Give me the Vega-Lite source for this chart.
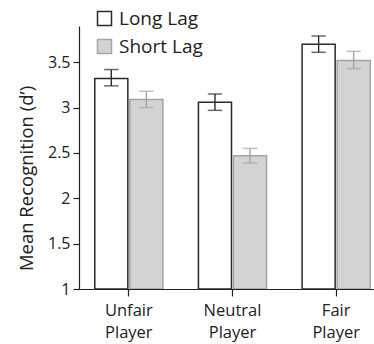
{
  "$schema": "https://vega.github.io/schema/vega-lite/v6.json",
  "autosize": {"type": "none"},
  "padding": {"left": 79, "top": 26, "right": 2, "bottom": 55},
  "width": 293,
  "height": 263,
  "background": "white",
  "config": {
    "font": "Open Sans",
    "view": {"stroke": null},
    "axis": {"domainColor": "#222", "tickColor": "#222", "labelColor": "#222", "titleColor": "#222", "grid": false, "domainWidth": 1.2, "tickWidth": 1.2}
  },
  "data": {
    "values": [
      {"player": "Unfair Player", "lag": "Long Lag", "mean": 3.32, "lo": 3.24, "hi": 3.42},
      {"player": "Unfair Player", "lag": "Short Lag", "mean": 3.09, "lo": 3.0, "hi": 3.18},
      {"player": "Neutral Player", "lag": "Long Lag", "mean": 3.06, "lo": 2.97, "hi": 3.15},
      {"player": "Neutral Player", "lag": "Short Lag", "mean": 2.47, "lo": 2.39, "hi": 2.55},
      {"player": "Fair Player", "lag": "Long Lag", "mean": 3.70, "lo": 3.61, "hi": 3.79},
      {"player": "Fair Player", "lag": "Short Lag", "mean": 3.52, "lo": 3.43, "hi": 3.62}
    ]
  },
  "encoding": {
    "x": {
      "field": "player", "type": "nominal",
      "sort": ["Unfair Player", "Neutral Player", "Fair Player"],
      "scale": {"range": [-2, 309], "paddingInner": 0, "paddingOuter": 0},
      "title": null,
      "axis": {"labelAngle": 0, "labelFontSize": 16.5, "tickSize": 7, "labelPadding": 6, "labelLineHeight": 22, "labelExpr": "split(datum.label, ' ')", "labelBaseline": "top", "zindex": 1}
    },
    "xOffset": {
      "field": "lag", "type": "nominal",
      "sort": ["Long Lag", "Short Lag"],
      "scale": {"paddingInner": 0.057, "paddingOuter": 0.507}
    },
    "stroke": {
      "field": "lag", "type": "nominal",
      "sort": ["Long Lag", "Short Lag"],
      "scale": {"range": ["#2a2a2a", "#a5a5a5"]},
      "legend": {
        "orient": "none", "legendX": 16, "legendY": -17, "title": null,
        "symbolType": "square", "symbolSize": 196, "symbolStrokeWidth": 1.5,
        "labelFontSize": 19, "labelFontWeight": "normal", "labelOffset": 5, "rowPadding": 7, "labelColor": "#222",
        "encode": {"symbols": {"update": {"fill": {"scale": "fill", "field": "value"}, "stroke": {"scale": "stroke", "field": "value"}, "fillOpacity": {"value": 1}}}}
      }
    }
  },
  "layer": [
    {
      "mark": {"type": "bar", "strokeWidth": 1.5},
      "encoding": {
        "y": {
          "field": "mean", "type": "quantitative",
          "scale": {"domain": [1, 3.9], "nice": false, "zero": false},
          "axis": {"values": [1, 1.5, 2, 2.5, 3, 3.5], "format": "~g", "labelFontSize": 16, "tickSize": 6, "labelPadding": 3, "titleFontSize": 18.5, "titleFontWeight": "normal", "titlePadding": 11, "titleY": 152},
          "title": "Mean Recognition (d’)"
        },
        "y2": {"datum": 1},
        "fill": {
          "field": "lag", "type": "nominal",
          "sort": ["Long Lag", "Short Lag"],
          "scale": {"range": ["#ffffff", "#d2d3d5"]},
          "legend": null
        }
      }
    },
    {
      "mark": {"type": "rule", "strokeWidth": 1.4},
      "encoding": {
        "y": {"field": "lo", "type": "quantitative"},
        "y2": {"field": "hi"}
      }
    },
    {
      "mark": {"type": "tick", "thickness": 0.2, "strokeWidth": 1.3, "filled": false, "size": 13, "orient": "horizontal"},
      "encoding": {
        "y": {"field": "lo", "type": "quantitative"}
      }
    },
    {
      "mark": {"type": "tick", "thickness": 0.2, "strokeWidth": 1.3, "filled": false, "size": 13, "orient": "horizontal"},
      "encoding": {
        "y": {"field": "hi", "type": "quantitative"}
      }
    }
  ]
}
